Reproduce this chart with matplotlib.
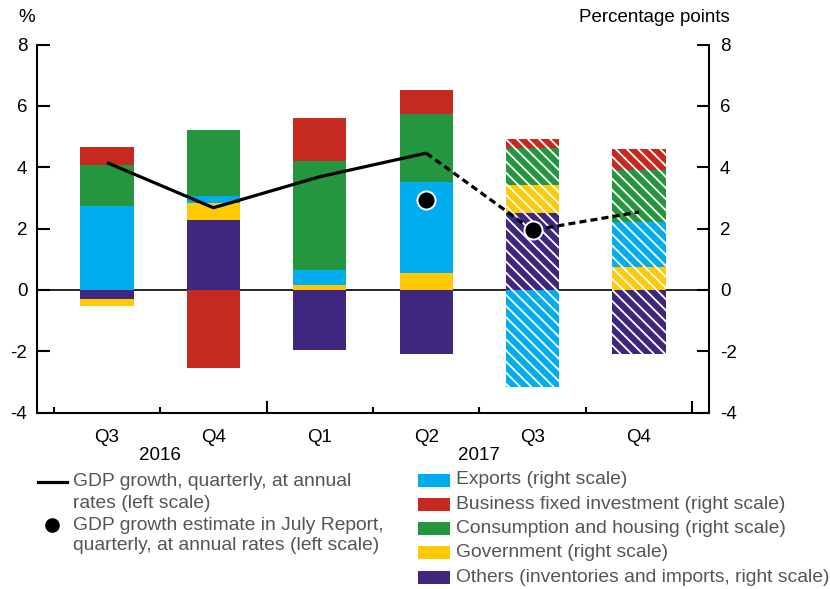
import numpy as np
import matplotlib
matplotlib.use("Agg")
from matplotlib import pyplot as plt
from matplotlib.patches import Rectangle
from matplotlib.lines import Line2D

plt.rcParams['font.family'] = ['Liberation Sans', 'DejaVu Sans']
plt.rcParams['axes.unicode_minus'] = False
plt.rcParams['hatch.linewidth'] = 1.3

quarters = ["Q3", "Q4", "Q1", "Q2", "Q3", "Q4"]
years = ["2016", "2017"]
year_centers = [0.5, 3.5]
projected = [False, False, False, False, True, True]

# contributions, percentage points (right scale)
exports = [2.74, 0.24, 0.50, 2.98, -3.17, 1.47]
business_inv = [0.60, -2.55, 1.41, 0.79, 0.27, 0.66]
consumption = [1.33, 2.15, 3.55, 2.20, 1.22, 1.69]
government = [-0.21, 0.54, 0.16, 0.54, 0.90, 0.76]
others = [-0.31, 2.28, -1.95, -2.08, 2.52, -2.08]

# GDP growth, % (left scale)
gdp_growth = [4.15, 2.68, 3.69, 4.46, 1.95, 2.54]
july_idx = [3, 4]
july_estimate = [2.93, 1.95]

colors = {
    "exports": "#00AEEF",
    "bfi": "#C6291F",
    "cons": "#23963F",
    "gov": "#FFC905",
    "others": "#3F267E",
}

fig = plt.figure(figsize=(8.3, 5.89), dpi=100)
ax = fig.add_axes([37/830, 1 - 412.7/589, 672/830, 368.2/589])

x = np.arange(len(quarters))
width = 0.5
stack = [(others, "others"), (government, "gov"), (exports, "exports"),
         (consumption, "cons"), (business_inv, "bfi")]

pos_base = np.zeros(len(x))
neg_base = np.zeros(len(x))
for vals, key in stack:
    vals = np.array(vals)
    for i in range(len(x)):
        v = vals[i]
        base = pos_base[i] if v >= 0 else neg_base[i]
        if projected[i]:
            ax.bar(x[i], v, width, bottom=base, color=colors[key],
                   edgecolor="white", hatch="\\\\\\", linewidth=0, zorder=2)
        else:
            ax.bar(x[i], v, width, bottom=base, color=colors[key],
                   linewidth=0, zorder=2)
        if v >= 0:
            pos_base[i] += v
        else:
            neg_base[i] += v

ax.axhline(0, color="black", lw=1.2, zorder=1)

ax.plot(x[:4], gdp_growth[:4], color="black", lw=2.3, zorder=4,
        solid_capstyle="butt")
ax.plot(x[3:], gdp_growth[3:], color="black", lw=2.3, zorder=4,
        linestyle=(0, (2.2, 1.3)))
ax.plot(x[july_idx], july_estimate, "o", color="black", ms=13,
        mec="white", mew=1.4, zorder=5)

ax.set_xlim(-0.658, 5.658)
ax.set_ylim(-4, 8)
ax.set_yticks(range(-4, 9, 2))
ax.set_xticks(x)
ax.set_xticklabels(quarters)
ax.set_xticks([-0.5, 0.5, 2.5, 3.5, 4.5], minor=True)
for s in ["top", "right"]:
    ax.spines[s].set_visible(False)
for s in ["left", "bottom"]:
    ax.spines[s].set_linewidth(1.5)
ax.tick_params(axis="y", direction="in", length=9, width=1.5,
               labelsize=13.5, pad=7)
ax.tick_params(axis="x", which="major", length=0, labelsize=13.5, pad=12)
ax.tick_params(axis="x", which="minor", direction="in", length=4.5, width=1.5)
# longer year separators
for xv in [1.5, 5.5]:
    ax.plot([xv, xv], [-4, -4 + 11/30.68], color="black", lw=1.5,
            clip_on=False, zorder=3)

ax2 = ax.twinx()
ax2.set_ylim(-4, 8)
ax2.set_yticks(range(-4, 9, 2))
for s in ["top", "left", "bottom"]:
    ax2.spines[s].set_visible(False)
ax2.spines["right"].set_linewidth(1.5)
ax2.tick_params(axis="y", direction="in", length=9, width=1.5,
                labelsize=13.5, pad=8)

for yr, xc in zip(years, year_centers):
    ax.text(xc, -0.115, yr, transform=ax.get_xaxis_transform(),
            ha="center", va="center", fontsize=13.5)

fig.text(18/830, 1 - 17/589, "%", fontsize=13.5, va="center", ha="left")
fig.text(730/830, 1 - 17/589, "Percentage points", fontsize=13.5,
         va="center", ha="right")

# legend drawn in pixel space
lg = fig.add_axes([0, 0, 1, 1], zorder=-1)
lg.set_xlim(0, 830)
lg.set_ylim(589, 0)
lg.axis("off")
grey = "#555555"
fs = 13.9
lg.add_line(Line2D([38, 67], [482, 482], color="black", lw=2.3))
lg.plot([52], [525], "o", color="black", ms=9.5)
left_rows = [("GDP growth, quarterly, at annual", 482),
             ("rates (left scale)", 503),
             ("GDP growth estimate in July Report,", 525),
             ("quarterly, at annual rates (left scale)", 546)]
for txt, yy in left_rows:
    lg.text(73, yy, txt, fontsize=fs, color=grey, va="center", ha="left")

right_rows = [("Exports (right scale)", "exports"),
              ("Business fixed investment (right scale)", "bfi"),
              ("Consumption and housing (right scale)", "cons"),
              ("Government (right scale)", "gov"),
              ("Others (inventories and imports, right scale)", "others")]
for k, (txt, key) in enumerate(right_rows):
    yy = 480 + k * 24.3
    lg.add_patch(Rectangle((418, yy - 6.5), 32, 13, color=colors[key], lw=0))
    lg.text(456, yy, txt, fontsize=fs, color=grey, va="center", ha="left")

fig.savefig("out.png", dpi=100)
